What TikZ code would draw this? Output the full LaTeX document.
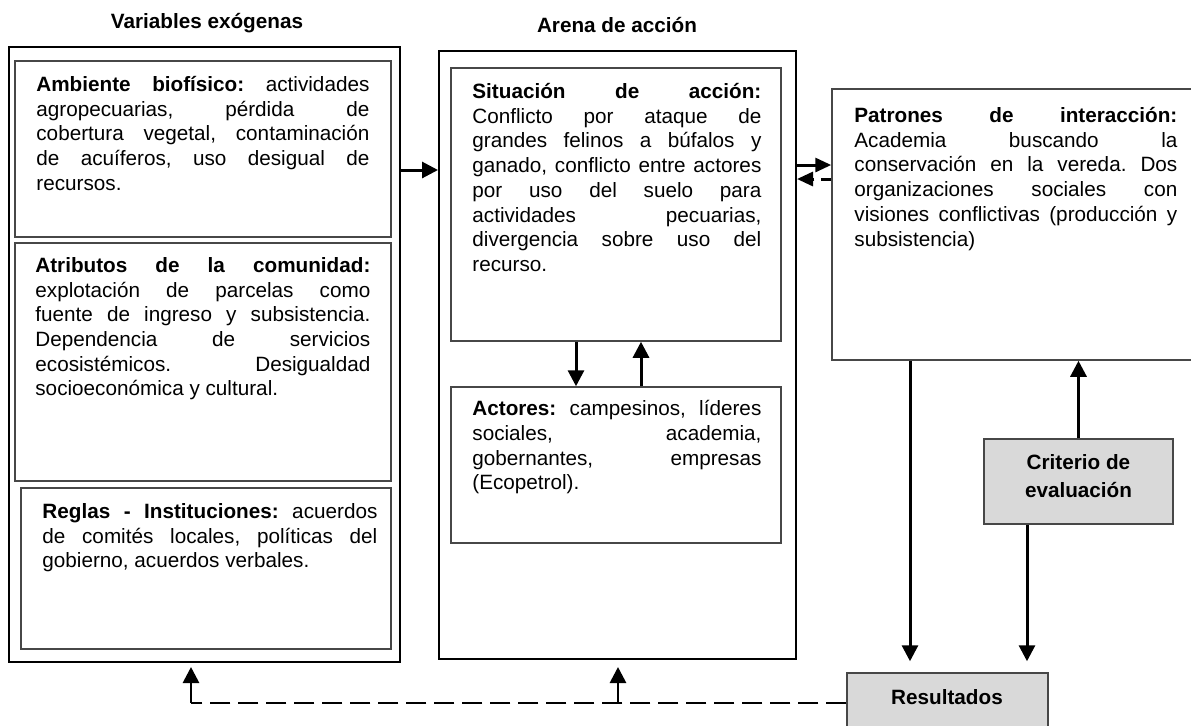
\documentclass[tikz,border=0pt]{standalone}
\usepackage{fontspec}
\setmainfont{Liberation Sans}
\usetikzlibrary{arrows.meta,fit,calc}
\tolerance=10000 \hbadness=10000 \hyphenpenalty=10000
\frenchspacing
\begin{document}
\begin{tikzpicture}[x=0.5pt,y=-0.5pt,
  font=\fontsize{10.35pt}{12.35pt}\selectfont,
  outerbox/.style={draw=black, line width=1pt, inner sep=0pt},
  innerbox/.style={draw=black!72, line width=0.75pt, inner sep=0pt},
  graybox/.style={draw=black!72, line width=0.75pt, fill=black!15, inner sep=0pt},
  txt/.style={anchor=north west, inner sep=0pt, align=justify,
    execute at begin node={\tolerance=10000\hbadness=10000\hyphenpenalty=10000\frenchspacing}},
  ttl/.style={anchor=base, inner sep=0pt, font=\fontsize{10.35pt}{12.35pt}\selectfont\bfseries},
  conn/.style={line width=1.5pt, -{Triangle[length=8pt,width=8pt]}},
  sconn/.style={line width=1.5pt, -{Triangle[length=8pt,width=7pt]}},
  dconn/.style={line width=1.5pt, dash pattern=on 5pt off 3.5pt, -{Triangle[length=8pt,width=7pt]}},
  dline/.style={line width=1.4pt, dash pattern=on 10pt off 4pt},
  dlineup/.style={dline, -{Triangle[length=8pt,width=8pt]}},
]
\useasboundingbox (0,0) rectangle (1191,725);

% titles
\node[ttl] (t1) at (207,28) {Variables exógenas};
\node[ttl] (t2) at (617,32) {Arena de acción};

% boxes
\node[outerbox, fit={(9,47) (400,662)}] (izq) {};
\node[innerbox, fit={(15,61) (391,237)}] (amb) {};
\node[innerbox, fit={(15,243) (391,481)}] (atr) {};
\node[innerbox, fit={(21,488) (391,649)}] (reg) {};
\node[outerbox, fit={(439,51) (796,659)}] (arena) {};
\node[innerbox, fit={(451,68) (781,341)}] (sit) {};
\node[innerbox, fit={(451,387) (781,543)}] (act) {};
\node[innerbox, fit={(832,89) (1200,360)}] (pat) {};
\node[graybox, fit={(984,439) (1173,524)}] (crit) {};
\node[graybox, fit={(847,673) (1048,733)}] (res) {};

% texts
\node[txt, text width=166.5pt] (ambt) at (36,76) {\textbf{Ambiente biofísico:} actividades\linebreak agropecuarias, pérdida de\linebreak cobertura vegetal, contaminación\linebreak de acuíferos, uso desigual de\linebreak recursos.};
\node[txt, text width=167.5pt] (atrt) at (35,257) {\textbf{Atributos de la comunidad:}\linebreak explotación de parcelas como\linebreak fuente de ingreso y subsistencia.\linebreak Dependencia de servicios\linebreak ecosistémicos. Desigualdad\linebreak socioeconómica y cultural.};
\node[txt, text width=167.5pt] (regt) at (42,503) {\textbf{Reglas - Instituciones:} acuerdos\linebreak de comités locales, políticas del\linebreak gobierno, acuerdos verbales.};
\node[txt, text width=144.5pt] (sitt) at (472,83) {\textbf{Situación de acción:}\linebreak Conflicto por ataque de\linebreak grandes felinos a búfalos y\linebreak ganado, conflicto entre actores\linebreak por uso del suelo para\linebreak actividades pecuarias,\linebreak divergencia sobre uso del\linebreak recurso.};
\node[txt, text width=144.5pt] (actt) at (472,400) {\textbf{Actores:} campesinos, líderes\linebreak sociales, academia,\linebreak gobernantes, empresas\linebreak (Ecopetrol).};
\node[txt, text width=161.5pt] (patt) at (854,107) {\textbf{Patrones de interacción:}\linebreak Academia buscando la\linebreak conservación en la vereda. Dos\linebreak organizaciones sociales con\linebreak visiones conflictivas (producción y\linebreak subsistencia)};
\node[anchor=north, inner sep=0pt, align=center, font=\fontsize{10.35pt}{14pt}\selectfont\bfseries] (critt) at (1078.5,454) {Criterio de\\evaluación};
\node[ttl] (rest) at (947,704) {Resultados};

% connectors
\draw[conn] (izq.east |- 0,170) -- (arena.west |- 0,170);
\draw[sconn] (arena.east |- 0,165) -- (pat.west |- 0,165);
\draw[dconn] (pat.west |- 0,179) -- (arena.east |- 0,179);
\draw[conn] (sit.south -| 576,0) -- (act.north -| 576,0);
\draw[conn] (act.north -| 641,0) -- (sit.south -| 641,0);
\draw[conn, shorten >=5.5pt] (pat.south -| 910,0) -- (res.north -| 910,0);
\draw[conn] (crit.north) -- (crit.north |- pat.south);
\draw[conn, shorten >=5.5pt] (crit.south -| 1027,0) -- (res.north -| 1027,0);

\coordinate (j1) at (191,703);
\coordinate (j2) at (618,703);
\draw[dline] (res.west) -- (j1);
\draw[dlineup, shorten >=2pt] (j1) -- (j1 |- izq.south);
\draw[dlineup, shorten >=3.5pt] (j2) -- (j2 |- arena.south);
\end{tikzpicture}
\end{document}
